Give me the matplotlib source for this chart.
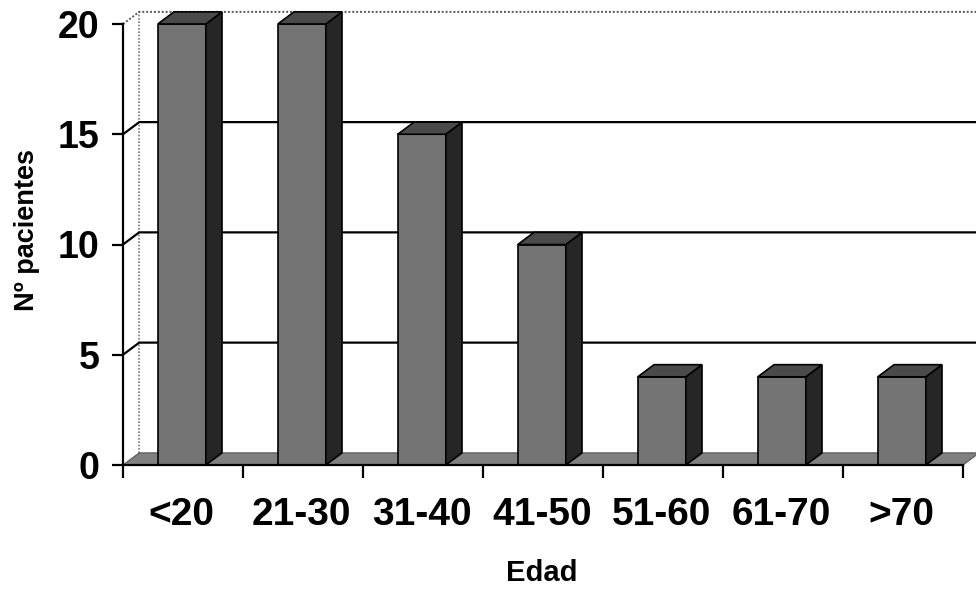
import matplotlib.pyplot as plt
from matplotlib.patches import Polygon

plt.rcParams["font.family"] = ["Liberation Sans", "DejaVu Sans"]
plt.rcParams["font.weight"] = "bold"

categorias = ["<20", "21-30", "31-40", "41-50", "51-60", "61-70", ">70"]
pacientes = [20, 20, 15, 10, 4, 4, 4]
ticks_y = [0, 5, 10, 15, 20]

# depth of the fake 3D effect, in data units (x: categories, y: patients)
DX = 0.135
DY = 0.55
BAR_W = 0.40
BAR_OFF = 0.29

FRONT = "#747474"
SIDE = "#262626"
TOP = "#4a4a4a"
FLOOR = "#808080"

fig = plt.figure(figsize=(9.76, 5.89), dpi=100)
ax = fig.add_axes([123 / 976, 1 - 465 / 589, 840 / 976, 441 / 589])
n = len(categorias)
ax.set_xlim(0, n)
ax.set_ylim(0, 20)

# back wall: left edge and top border (dotted), grid lines on the wall
ax.plot([DX, DX], [DY, 20 + DY], color="#777777", lw=1.2, ls=(0, (1, 1)), clip_on=False, zorder=1)
ax.plot([0, DX, n + DX], [20, 20 + DY, 20 + DY], color="#555555", lw=1.4, ls=(0, (1, 1)),
        clip_on=False, zorder=1)
for v in ticks_y[1:-1]:
    ax.plot([0, DX, n + DX], [v, v + DY, v + DY], color="black", lw=1.6, clip_on=False, zorder=1)

# floor
ax.add_patch(Polygon([(0, 0), (n, 0), (n + DX, DY), (DX, DY)], closed=True,
                     facecolor=FLOOR, edgecolor="#555555", lw=0.8, clip_on=False, zorder=2))

for i, v in enumerate(pacientes):
    x0 = i + BAR_OFF
    x1 = x0 + BAR_W
    ax.bar(x0, v, width=BAR_W, align="edge", color=FRONT, edgecolor="black", lw=1.2, zorder=3)
    ax.add_patch(Polygon([(x1, 0), (x1 + DX, DY), (x1 + DX, v + DY), (x1, v)], closed=True,
                         facecolor=SIDE, edgecolor="black", lw=1.2, clip_on=False, zorder=3))
    ax.add_patch(Polygon([(x0, v), (x1, v), (x1 + DX, v + DY), (x0 + DX, v + DY)], closed=True,
                         facecolor=TOP, edgecolor="black", lw=1.2, clip_on=False, zorder=3))

for s in ["top", "right"]:
    ax.spines[s].set_visible(False)
for s in ["left", "bottom"]:
    ax.spines[s].set_linewidth(1.6)
    ax.spines[s].set_zorder(4)

ax.set_yticks(ticks_y)
ax.set_yticklabels([str(t) for t in ticks_y], fontsize=27, fontweight="bold")
ax.tick_params(axis="y", length=8, width=1.6, pad=9)

ax.set_xticks(range(n + 1))
ax.set_xticklabels([])
ax.tick_params(axis="x", which="major", length=9, width=1.6, direction="out")
ax.set_xticks([i + BAR_OFF + BAR_W / 2 for i in range(n)], minor=True)
ax.set_xticklabels(categorias, minor=True, fontsize=28, fontweight="bold")
ax.tick_params(axis="x", which="minor", length=0, pad=23)

fig.text(542 / 976, 1 - 573 / 589, "Edad", ha="center", va="center", fontsize=21, fontweight="bold")
fig.text(27 / 976, 1 - 230 / 589, "Nº pacientes", ha="center", va="center", rotation=90,
         fontsize=19.5, fontweight="bold")

fig.savefig("out.png", dpi=100, facecolor="white")
